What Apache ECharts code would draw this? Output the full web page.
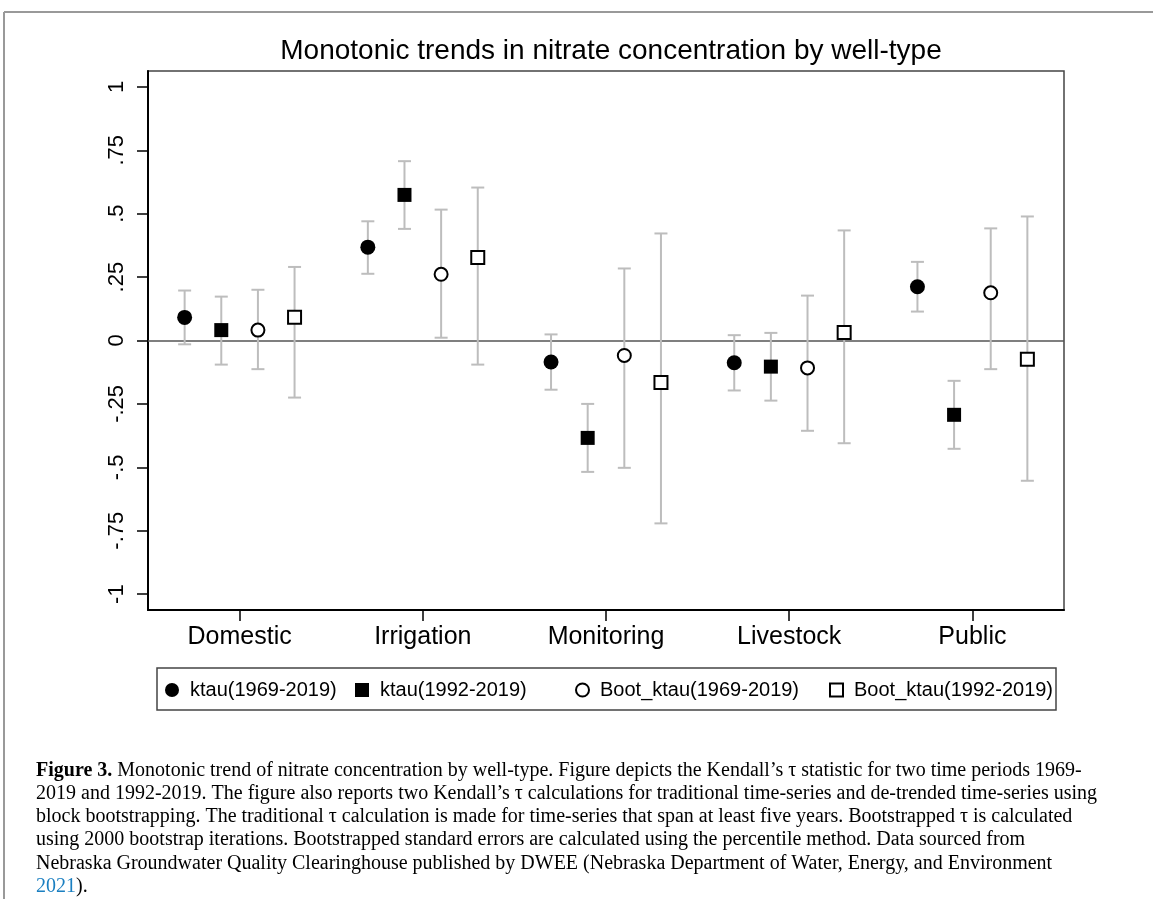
<!DOCTYPE html>
<html>
<head>
<meta charset="utf-8">
<script src="https://cdn.jsdelivr.net/npm/echarts@6/dist/echarts.min.js"></script>
<style>
html,body{margin:0;padding:0;background:#fff;}
#chart{width:1153px;height:899px;}
</style>
</head>
<body>
<div id="chart"></div>
<script>
// ---- data ----
const categories = ['Domestic', 'Irrigation', 'Monitoring', 'Livestock', 'Public'];
const yTickValues = [-1, -0.75, -0.5, -0.25, 0, 0.25, 0.5, 0.75, 1];
const yTickLabels = ['-1', '-.75', '-.5', '-.25', '0', '.25', '.5', '.75', '1'];

const seriesNames = ['ktau(1969-2019)', 'ktau(1992-2019)', 'Boot_ktau(1969-2019)', 'Boot_ktau(1992-2019)'];

const ktau69   = [0.091, 0.368, -0.085, -0.088, 0.212];
const ktau69Lo = [-0.015, 0.263, -0.194, -0.197, 0.114];
const ktau69Hi = [0.197, 0.470, 0.024, 0.021, 0.310];

const ktau92   = [0.041, 0.574, -0.384, -0.103, -0.293];
const ktau92Lo = [-0.095, 0.440, -0.518, -0.237, -0.427];
const ktau92Hi = [0.173, 0.707, -0.250, 0.030, -0.159];

const boot69   = [0.041, 0.261, -0.059, -0.108, 0.188];
const boot69Lo = [-0.113, 0.011, -0.502, -0.356, -0.113];
const boot69Hi = [0.200, 0.516, 0.284, 0.177, 0.442];

const boot92   = [0.092, 0.327, -0.166, 0.032, -0.074];
const boot92Lo = [-0.225, -0.095, -0.721, -0.405, -0.553];
const boot92Hi = [0.290, 0.603, 0.422, 0.434, 0.489];

const captionLines = [
  '{b|Figure 3.} Monotonic trend of nitrate concentration by well-type. Figure depicts the Kendall\u2019s \u03c4 statistic for two time periods 1969-',
  '2019 and 1992-2019. The figure also reports two Kendall\u2019s \u03c4 calculations for traditional time-series and de-trended time-series using',
  'block bootstrapping. The traditional \u03c4 calculation is made for time-series that span at least five years. Bootstrapped \u03c4 is calculated',
  'using 2000 bootstrap iterations. Bootstrapped standard errors are calculated using the percentile method. Data sourced from',
  'Nebraska Groundwater Quality Clearinghouse published by DWEE (Nebraska Department of Water, Energy, and Environment',
  '{l|2021}).'
];

// ---- build ----
const values = [ktau69, ktau92, boot69, boot92];
const los = [ktau69Lo, ktau92Lo, boot69Lo, boot92Lo];
const his = [ktau69Hi, ktau92Hi, boot69Hi, boot92Hi];
const offsets = [-0.3, -0.1, 0.1, 0.3];
const symbols = [
  {symbol: 'circle', size: 15, itemStyle: {color: '#000', borderColor: '#000', borderWidth: 0, opacity: 1}},
  {symbol: 'rect', size: 14, itemStyle: {color: '#000', borderColor: '#000', borderWidth: 0, opacity: 1}},
  {symbol: 'circle', size: 13, itemStyle: {color: '#fff', borderColor: '#000', borderWidth: 2, opacity: 1}},
  {symbol: 'rect', size: 13, itemStyle: {color: '#fff', borderColor: '#000', borderWidth: 2, opacity: 1}}
];

const FONT = 'Liberation Sans';
const series = [];
values.forEach((vals, s) => {
  series.push({
    type: 'custom',
    name: 'err' + s,
    z: 2,
    silent: true,
    encode: {x: 0, y: [1, 2]},
    data: vals.map((v, i) => [i + 1 + offsets[s], los[s][i], his[s][i]]),
    renderItem: function (params, api) {
      const x = api.value(0);
      const p1 = api.coord([x, api.value(1)]);
      const p2 = api.coord([x, api.value(2)]);
      const hw = 6.5;
      const st = {stroke: '#bdbdbd', lineWidth: 2};
      return {type: 'group', children: [
        {type: 'line', shape: {x1: p1[0], y1: p1[1], x2: p2[0], y2: p2[1]}, style: st},
        {type: 'line', shape: {x1: p1[0] - hw, y1: p1[1], x2: p1[0] + hw, y2: p1[1]}, style: st},
        {type: 'line', shape: {x1: p2[0] - hw, y1: p2[1], x2: p2[0] + hw, y2: p2[1]}, style: st}
      ]};
    }
  });
});
values.forEach((vals, s) => {
  const sc = {
    type: 'scatter',
    name: seriesNames[s],
    z: 5,
    symbol: symbols[s].symbol,
    symbolSize: symbols[s].size,
    symbolKeepAspect: true,
    itemStyle: symbols[s].itemStyle,
    data: vals.map((v, i) => [i + 1 + offsets[s], v])
  };
  if (s === 0) {
    sc.markLine = {
      silent: true, symbol: 'none', z: 1,
      label: {show: false},
      lineStyle: {color: '#555', width: 1.5, type: 'solid'},
      data: [{yAxis: 0}]
    };
  }
  series.push(sc);
});

const legendLefts = [165, 355, 575, 829];
const legendIconSizes = [14, 14, 13, 13];
const legends = seriesNames.map((n, s) => ({
  data: [n],
  left: legendLefts[s],
  top: 680,
  padding: 0,
  itemWidth: legendIconSizes[s],
  itemHeight: legendIconSizes[s],
  selectedMode: false,
  textStyle: {fontFamily: FONT, fontSize: 20, color: '#000', padding: [0, 0, 0, 6]}
}));

const option = {
  animation: false,
  backgroundColor: '#fff',
  title: {
    text: 'Monotonic trends in nitrate concentration by well-type',
    left: 606, top: 32, textAlign: 'center',
    textStyle: {fontFamily: FONT, fontSize: 28, fontWeight: 'normal', color: '#000'}
  },
  legend: legends,
  grid: {left: 148, top: 71, width: 916, height: 539, show: true, borderColor: '#444', borderWidth: 1.5, containLabel: false},
  xAxis: {
    type: 'value', min: 0.5, max: 5.5,
    axisLine: {show: true, onZero: false, lineStyle: {color: '#000', width: 2}},
    axisTick: {show: true, length: 11, lineStyle: {color: '#000', width: 1.5}, customValues: [1, 2, 3, 4, 5]},
    axisLabel: {
      customValues: [1, 2, 3, 4, 5],
      margin: 15,
      fontFamily: FONT, fontSize: 25, color: '#000',
      formatter: v => categories[Math.round(v) - 1]
    },
    splitLine: {show: false}
  },
  yAxis: {
    type: 'value', min: -1.0625, max: 1.0625,
    axisLine: {show: true, onZero: false, lineStyle: {color: '#000', width: 2}},
    axisTick: {show: true, length: 11, lineStyle: {color: '#000', width: 1.5}, customValues: yTickValues},
    axisLabel: {
      customValues: yTickValues,
      rotate: 90,
      margin: 20,
      fontFamily: FONT, fontSize: 22, color: '#000',
      formatter: v => { const i = yTickValues.findIndex(t => Math.abs(t - v) < 1e-9); return i >= 0 ? yTickLabels[i] : ''; }
    },
    splitLine: {show: false}
  },
  graphic: [
    {type: 'line', shape: {x1: 4, y1: 12, x2: 1153, y2: 12}, style: {stroke: '#999', lineWidth: 2}, z: 0},
    {type: 'line', shape: {x1: 4, y1: 12, x2: 4, y2: 899}, style: {stroke: '#999', lineWidth: 2}, z: 0},
    {type: 'rect', shape: {x: 157, y: 668, width: 899, height: 42}, style: {fill: 'none', stroke: '#444', lineWidth: 1.5}, z: 0},
    {
      type: 'text', left: 36, top: 759, z: 10,
      style: {
        text: captionLines.join('\n'),
        fontFamily: 'Liberation Serif', fontSize: 20, lineHeight: 23.2, fill: '#000',
        rich: {
          b: {fontFamily: 'Liberation Serif', fontSize: 20, fontWeight: 'bold', fill: '#000', lineHeight: 23.2},
          l: {fontFamily: 'Liberation Serif', fontSize: 20, fill: '#1a7fc1', lineHeight: 23.2}
        }
      }
    }
  ],
  series: series
};

const chart = echarts.init(document.getElementById('chart'), null, {renderer: 'canvas'});
chart.setOption(option);
</script>
</body>
</html>
